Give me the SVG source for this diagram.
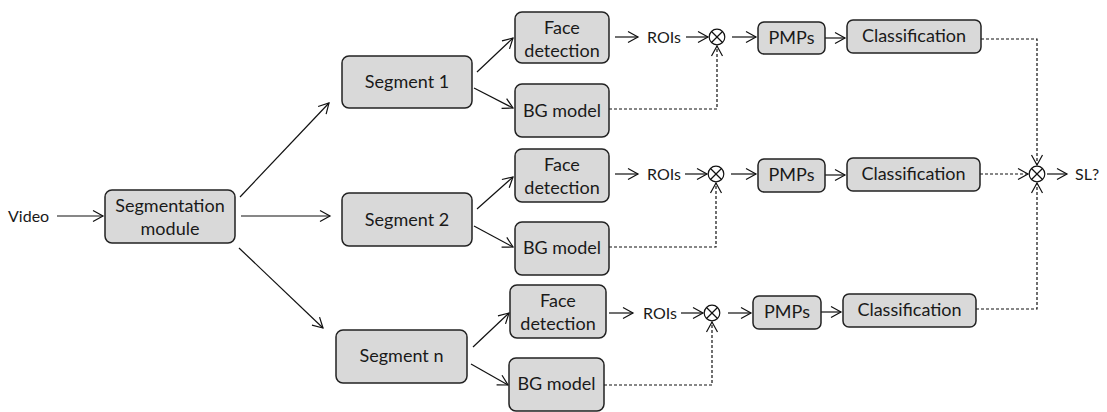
<svg xmlns="http://www.w3.org/2000/svg" width="1107" height="412" viewBox="0 0 1107 412">
  <style>
    .box { fill: #d9d9d9; stroke: #222; stroke-width: 1.5; }
    .lbl { font-family: Lato, "Noto Sans", sans-serif; font-size: 18px; fill: #1a1a1a; text-anchor: middle; }
    .free { font-family: Lato, "Noto Sans", sans-serif; font-size: 16px; fill: #1a1a1a; }
    .arr { fill: none; stroke: #111; stroke-width: 1.2; marker-end: url(#head); }
    .dasharr { fill: none; stroke: #111; stroke-width: 1.2; stroke-dasharray: 3 2; marker-end: url(#head); }
    .mult circle { fill: #fff; stroke: #111; stroke-width: 1.2; }
    .mult line { stroke: #111; stroke-width: 1.2; }
  </style>
  <defs>
    <marker id="head" markerUnits="userSpaceOnUse" markerWidth="14" markerHeight="14" refX="0" refY="0" viewBox="-11 -7 14 14" orient="auto" overflow="visible">
      <path d="M-10,-5.5 L0,0 L-10,5.5" fill="none" stroke="#111" stroke-width="1.2" stroke-dasharray="none"/>
    </marker>
    <g id="otimes" class="mult">
      <circle cx="0" cy="0" r="7.8"/>
      <line x1="-5.5" y1="-5.5" x2="5.5" y2="5.5"/>
      <line x1="-5.5" y1="5.5" x2="5.5" y2="-5.5"/>
    </g>
  </defs>

  <!-- input label -->
  <text class="free" x="8" y="222">Video</text>

  <!-- connectors -->
  <g id="connectors">
    <line class="arr" x1="57" y1="216" x2="103" y2="216"/>
    <line class="arr" x1="240" y1="197" x2="329" y2="103"/>
    <line class="arr" x1="241" y1="216" x2="330" y2="216"/>
    <line class="arr" x1="239" y1="248" x2="323" y2="328"/>

    <!-- branch 1 -->
    <line class="arr" x1="615" y1="37" x2="638" y2="37"/>
    <line class="arr" x1="477" y1="72" x2="513" y2="38"/>
    <line class="arr" x1="474" y1="88" x2="513" y2="108"/>
    <line class="arr" x1="686" y1="37" x2="708" y2="37"/>
    <line class="arr" x1="732" y1="37" x2="756" y2="37"/>
    <line class="arr" x1="825" y1="38" x2="845" y2="38"/>
    <polyline class="dasharr" points="609,109 717,109 717,46"/>
    <polyline class="dasharr" points="981,39 1037,39 1037,165"/>

    <!-- branch 2 -->
    <line class="arr" x1="477" y1="209" x2="513" y2="177"/>
    <line class="arr" x1="474" y1="226" x2="513" y2="247"/>
    <line class="arr" x1="615" y1="174" x2="638" y2="174"/>
    <line class="arr" x1="685" y1="174" x2="707" y2="174"/>
    <line class="arr" x1="731" y1="174" x2="756" y2="174"/>
    <line class="arr" x1="825" y1="175" x2="845" y2="175"/>
    <polyline class="dasharr" points="609,247 716,247 716,183"/>
    <line class="dasharr" x1="980" y1="174" x2="1028" y2="174"/>

    <!-- branch n -->
    <line class="arr" x1="473" y1="347" x2="509" y2="313"/>
    <line class="arr" x1="471" y1="364" x2="508" y2="385"/>
    <line class="arr" x1="609" y1="313" x2="633" y2="313"/>
    <line class="arr" x1="681" y1="313" x2="703" y2="313"/>
    <line class="arr" x1="728" y1="313" x2="751" y2="313"/>
    <line class="arr" x1="821" y1="312" x2="841" y2="312"/>
    <polyline class="dasharr" points="604,385 712,385 712,322"/>
    <polyline class="dasharr" points="976,309 1037,309 1037,183"/>

    <!-- decision output -->
    <line class="arr" x1="1047" y1="174" x2="1067" y2="174"/>
  </g>

  <!-- ROI labels and output label -->
  <text class="free" x="647" y="43">ROIs</text>
  <text class="free" x="647" y="180">ROIs</text>
  <text class="free" x="643" y="319">ROIs</text>
  <text class="free" x="1075" y="180">SL?</text>

  <!-- multiplier junctions -->
  <use href="#otimes" x="717" y="37"/>
  <use href="#otimes" x="716" y="174"/>
  <use href="#otimes" x="712" y="313"/>
  <use href="#otimes" x="1037" y="174"/>

  <g id="segmentation-module">
    <rect class="box" x="105" y="190" width="130" height="53" rx="7"/>
    <text class="lbl" x="170" y="212">Segmentation</text>
    <text class="lbl" x="170" y="235">module</text>
  </g>

  <g id="segment-1">
    <rect class="box" x="342" y="56" width="130" height="52" rx="7"/>
    <text class="lbl" x="407" y="88">Segment 1</text>
  </g>
  <g id="face-detection-1">
    <rect class="box" x="515" y="12" width="94" height="51" rx="7"/>
    <text class="lbl" x="562" y="34">Face</text>
    <text class="lbl" x="562" y="57">detection</text>
  </g>
  <g id="bg-model-1">
    <rect class="box" x="515" y="84" width="94" height="53" rx="7"/>
    <text class="lbl" x="562" y="117">BG model</text>
  </g>
  <g id="pmps-1">
    <rect class="box" x="758" y="22" width="67" height="32" rx="6"/>
    <text class="lbl" x="791.5" y="44">PMPs</text>
  </g>
  <g id="classification-1">
    <rect class="box" x="847" y="20" width="134" height="33" rx="6"/>
    <text class="lbl" x="914" y="42">Classification</text>
  </g>

  <g id="segment-2">
    <rect class="box" x="342" y="193" width="130" height="53" rx="7"/>
    <text class="lbl" x="407" y="226">Segment 2</text>
  </g>
  <g id="face-detection-2">
    <rect class="box" x="515" y="149" width="94" height="53" rx="7"/>
    <text class="lbl" x="562" y="171">Face</text>
    <text class="lbl" x="562" y="194">detection</text>
  </g>
  <g id="bg-model-2">
    <rect class="box" x="515" y="222" width="94" height="53" rx="7"/>
    <text class="lbl" x="562" y="254">BG model</text>
  </g>
  <g id="pmps-2">
    <rect class="box" x="758" y="159" width="67" height="33" rx="6"/>
    <text class="lbl" x="791.5" y="181">PMPs</text>
  </g>
  <g id="classification-2">
    <rect class="box" x="847" y="158" width="133" height="33" rx="6"/>
    <text class="lbl" x="913.5" y="180">Classification</text>
  </g>

  <g id="segment-n">
    <rect class="box" x="336" y="330" width="131" height="53" rx="7"/>
    <text class="lbl" x="401.5" y="362">Segment n</text>
  </g>
  <g id="face-detection-n">
    <rect class="box" x="510" y="285" width="96" height="53" rx="7"/>
    <text class="lbl" x="558" y="307">Face</text>
    <text class="lbl" x="558" y="330">detection</text>
  </g>
  <g id="bg-model-n">
    <rect class="box" x="509" y="358" width="95" height="53" rx="7"/>
    <text class="lbl" x="556.5" y="390">BG model</text>
  </g>
  <g id="pmps-n">
    <rect class="box" x="753" y="296" width="68" height="33" rx="6"/>
    <text class="lbl" x="787" y="318">PMPs</text>
  </g>
  <g id="classification-n">
    <rect class="box" x="843" y="294" width="133" height="33" rx="6"/>
    <text class="lbl" x="909.5" y="316">Classification</text>
  </g>
</svg>
